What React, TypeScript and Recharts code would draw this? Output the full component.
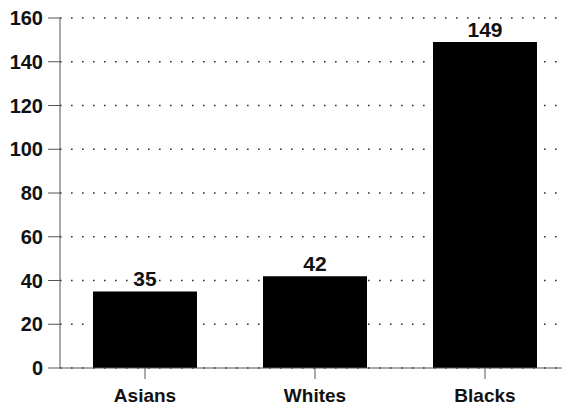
import { BarChart, Bar, XAxis, YAxis, CartesianGrid, LabelList } from 'recharts'

const groups = ['Asians', 'Whites', 'Blacks']
const counts = [35, 42, 149]
const yTicks = [0, 20, 40, 60, 80, 100, 120, 140, 160]

const data = groups.map((name, i) => ({ name, value: counts[i] }))

const font = '"Liberation Sans", Arial, sans-serif'

export default function App() {
  return (
    <div style={{ position: 'fixed', left: 0, top: 0, width: 562, height: 408, overflow: 'hidden', background: '#fff' }}>
      <BarChart
        width={570}
        height={408}
        data={data}
        margin={{ top: 18, right: 0, left: 0, bottom: 0 }}
        barCategoryGap={0}
      >
        <CartesianGrid
          vertical={false}
          strokeDasharray="1.6 9.4"
          stroke="#333"
          strokeWidth={1.6}
        />
        <XAxis
          dataKey="name"
          height={40}
          tickSize={11}
          tickMargin={10}
          stroke="#555"
          tick={{ fill: '#111', fontSize: 19, fontWeight: 'bold', fontFamily: font }}
        />
        <YAxis
          width={60}
          domain={[0, 160]}
          ticks={yTicks}
          interval={0}
          tickSize={12}
          tickMargin={5}
          stroke="#555"
          tick={{ fill: '#111', fontSize: 20, fontWeight: 'bold', fontFamily: font }}
        />
        <Bar dataKey="value" fill="#000" barSize={104} isAnimationActive={false}>
          <LabelList
            dataKey="value"
            position="top"
            offset={5}
            fill="#111"
            fontSize={21}
            fontWeight="bold"
            fontFamily={font}
          />
        </Bar>
      </BarChart>
    </div>
  )
}
